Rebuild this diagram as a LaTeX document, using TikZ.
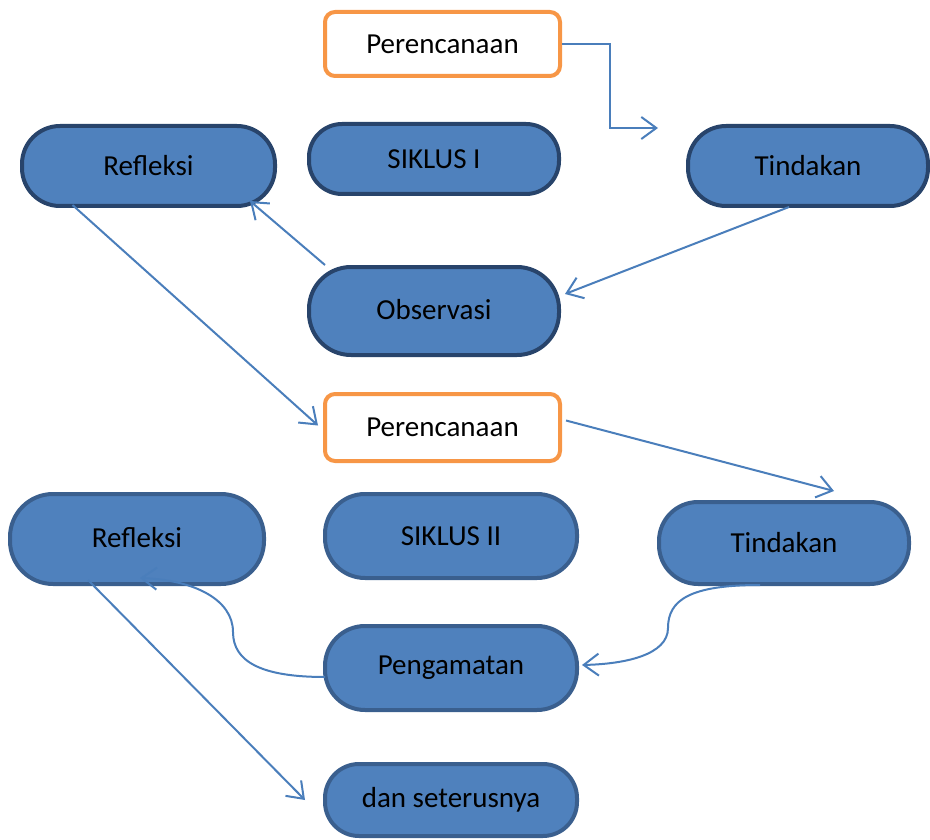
\documentclass[tikz,border=0pt]{standalone}
\usepackage{fontspec}
\setmainfont{Carlito}
\usetikzlibrary{arrows.meta,calc}
\definecolor{boxfill}{HTML}{4F81BD}
\definecolor{edgedark}{HTML}{28446B}
\definecolor{edgelight}{HTML}{3A5F8E}
\definecolor{orangeedge}{HTML}{F79646}
\definecolor{linkblue}{HTML}{4A7EBB}
\tikzset{
  bbox/.style={draw=edgedark, fill=boxfill, line width=4pt, font=\fontsize{29}{33}\selectfont, text=black, inner sep=0pt},
  bboxb/.style={bbox, draw=edgelight},
  obox/.style={draw=orangeedge, fill=white, line width=4pt, rounded corners=10pt, font=\fontsize{29}{33}\selectfont, text=black, inner sep=0pt},
  arr/.style={draw=linkblue, line width=2pt, -{Straight Barb[length=15pt,width=22pt,line width=2pt]}}
}
\begin{document}
\begin{tikzpicture}[x={(1pt,0)}, y={(0,-1pt)}]
\useasboundingbox (0,0) rectangle (930,840);
% nodes
\node[obox, minimum width=235pt, minimum height=64pt] (p1) at (442.5,44) {Perencanaan};
\node[bbox, minimum width=250pt, minimum height=70pt, rounded corners=33pt] (s1) at (434,159) {SIKLUS I};
\node[bbox, minimum width=253pt, minimum height=80pt, rounded corners=38pt] (r1) at (148.5,166) {\raisebox{2pt}{Refleksi}};
\node[bbox, minimum width=240pt, minimum height=80pt, rounded corners=38pt] (t1) at (808,166) {\raisebox{2pt}{Tindakan}};
\node[bbox, minimum width=250pt, minimum height=88pt, rounded corners=42pt] (o) at (434,311) {\raisebox{3pt}{Observasi}};
\node[obox, minimum width=235pt, minimum height=67pt] (p2) at (442.5,427.5) {Perencanaan};
\node[bboxb, minimum width=252pt, minimum height=84pt, rounded corners=40pt] (s2) at (451,536) {SIKLUS II};
\node[bboxb, minimum width=254pt, minimum height=90pt, rounded corners=43pt] (r2) at (137,539) {\raisebox{3pt}{Refleksi}};
\node[bboxb, minimum width=250pt, minimum height=82pt, rounded corners=39pt] (t2) at (784,543) {Tindakan};
\node[bboxb, minimum width=252pt, minimum height=84pt, rounded corners=40pt] (pg) at (451,668) {Pengamatan};
\node[bboxb, minimum width=252pt, minimum height=72pt, rounded corners=34pt] (d) at (451,800) {dan seterusnya};
% connectors
\coordinate (t1in) at (658,128);
\draw[arr] (p1.east) -- ($(p1.east)+(48,0)$) |- (t1in);
\draw[arr] ($(t1.south)+(-19,-1)$) -- ($(o.east)+(4,-17)$);
\draw[arr] ($(o.north west)+(18,0)$) -- ($(r1.south east)+(-27,-7)$);
\draw[arr] ($(r1.south)+(-76,-3)$) -- ($(p2.west)+(-5,-2)$);
\draw[arr] ($(p2.east)+(4,-7)$) -- ($(t2.north)+(50,-9)$);
\draw[arr] ($(t2.south)+(-24,-1)$) .. controls (690,585) and (668,600) .. (668,628) .. controls (668,655) and (625,664) .. ($(pg.east)+(3,-3)$);
\draw[arr] ($(pg.west)+(2,9)$) .. controls (262,677) and (233,662) .. (233,632) .. controls (233,600) and (195,580) .. ($(r2.south)+(3,-8)$);
\draw[arr] ($(r2.south)+(-49,-6)$) -- ($(d.west)+(-18,0)$);
\end{tikzpicture}
\end{document}
